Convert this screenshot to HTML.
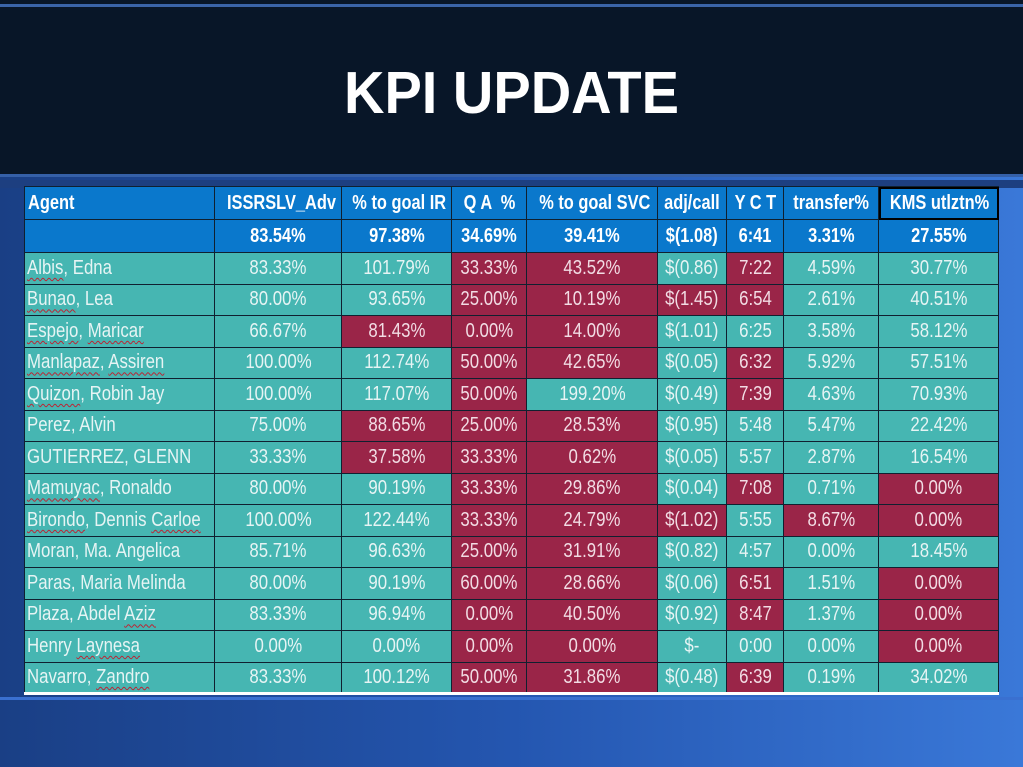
<!DOCTYPE html>
<html><head><meta charset="utf-8"><style>
*{margin:0;padding:0;box-sizing:border-box}
body{width:1023px;height:767px;overflow:hidden;position:relative;background:linear-gradient(90deg,#1a3f85 0%,#2456b0 50%,#3a78d8 100%);font-family:"Liberation Sans",sans-serif}
#top{position:absolute;left:0;top:0;width:1023px;height:174px;background:#081628}
#l1{position:absolute;left:0;top:4px;width:1023px;height:3px;background:#3a64a8}
#l2{position:absolute;left:0;top:174px;width:1023px;height:3px;background:#3560a8}
#l3{position:absolute;left:0;top:180px;width:1023px;height:8px;background:#1d3f80}
#lb{position:absolute;left:0;top:697px;width:1023px;height:3px;background:#3a70d0}
h1{position:absolute;left:0;top:60px;width:1023px;text-align:center;color:#fff;font:bold 56px "Liberation Sans",sans-serif;transform:scaleY(1.06)}
table{position:absolute;left:24px;top:186px;border-collapse:collapse;table-layout:fixed;width:974px}
td{border:1.5px solid #102030;height:31.5px;text-align:center;font-size:20px;color:#e6f4f4;background:#46b6b2;white-space:nowrap;overflow:hidden;padding:0}
td span{display:inline-block;transform:scaleX(0.84);transform-origin:center}
td:first-child span{transform-origin:left}
td.r{background:#9a2548;color:#f2dce4}
td:first-child{text-align:left;padding-left:2px}
tr.h td{background:#0a78cc;color:#fff;font-weight:bold;font-size:20px;height:33px}
tr.h td span{transform:scaleX(0.82)}
tr.h td:first-child{padding-left:3px}
.k{outline:2.5px solid #000;outline-offset:-2px}
u{text-decoration:underline wavy #c02030;text-decoration-thickness:1px;text-underline-offset:3px}
tbody{border-bottom:3px solid #fff}
</style></head><body>
<div id="top"></div><div id="l1"></div><div id="l2"></div><div id="l3"></div><div id="lb"></div>
<h1>KPI UPDATE</h1>
<table>
<colgroup><col style="width:190px"><col style="width:127px"><col style="width:110px"><col style="width:75px"><col style="width:131px"><col style="width:69px"><col style="width:57px"><col style="width:95px"><col style="width:120px"></colgroup>
<tbody>
<tr class="h"><td>Agent</td><td>ISSRSLV_Adv</td><td>% to goal IR</td><td>Q A &nbsp;%</td><td>% to goal SVC</td><td>adj/call</td><td>Y C T</td><td>transfer%</td><td class="k">KMS utlztn%</td></tr>
<tr class="h"><td></td><td>83.54%</td><td>97.38%</td><td>34.69%</td><td>39.41%</td><td>$(1.08)</td><td>6:41</td><td>3.31%</td><td>27.55%</td></tr>
<tr><td><u>Albis</u>, Edna</td><td>83.33%</td><td>101.79%</td><td class="r">33.33%</td><td class="r">43.52%</td><td>$(0.86)</td><td class="r">7:22</td><td>4.59%</td><td>30.77%</td></tr>
<tr><td><u>Bunao</u>, Lea</td><td>80.00%</td><td>93.65%</td><td class="r">25.00%</td><td class="r">10.19%</td><td class="r">$(1.45)</td><td class="r">6:54</td><td>2.61%</td><td>40.51%</td></tr>
<tr><td><u>Espejo</u>, <u>Maricar</u></td><td>66.67%</td><td class="r">81.43%</td><td class="r">0.00%</td><td class="r">14.00%</td><td>$(1.01)</td><td>6:25</td><td>3.58%</td><td>58.12%</td></tr>
<tr><td><u>Manlapaz</u>, <u>Assiren</u></td><td>100.00%</td><td>112.74%</td><td class="r">50.00%</td><td class="r">42.65%</td><td>$(0.05)</td><td class="r">6:32</td><td>5.92%</td><td>57.51%</td></tr>
<tr><td><u>Quizon</u>, Robin Jay</td><td>100.00%</td><td>117.07%</td><td class="r">50.00%</td><td>199.20%</td><td>$(0.49)</td><td class="r">7:39</td><td>4.63%</td><td>70.93%</td></tr>
<tr><td>Perez, Alvin</td><td>75.00%</td><td class="r">88.65%</td><td class="r">25.00%</td><td class="r">28.53%</td><td>$(0.95)</td><td>5:48</td><td>5.47%</td><td>22.42%</td></tr>
<tr><td>GUTIERREZ, GLENN</td><td>33.33%</td><td class="r">37.58%</td><td class="r">33.33%</td><td class="r">0.62%</td><td>$(0.05)</td><td>5:57</td><td>2.87%</td><td>16.54%</td></tr>
<tr><td><u>Mamuyac</u>, Ronaldo</td><td>80.00%</td><td>90.19%</td><td class="r">33.33%</td><td class="r">29.86%</td><td>$(0.04)</td><td class="r">7:08</td><td>0.71%</td><td class="r">0.00%</td></tr>
<tr><td><u>Birondo</u>, Dennis <u>Carloe</u></td><td>100.00%</td><td>122.44%</td><td class="r">33.33%</td><td class="r">24.79%</td><td class="r">$(1.02)</td><td>5:55</td><td class="r">8.67%</td><td class="r">0.00%</td></tr>
<tr><td>Moran, Ma. Angelica</td><td>85.71%</td><td>96.63%</td><td class="r">25.00%</td><td class="r">31.91%</td><td>$(0.82)</td><td>4:57</td><td>0.00%</td><td>18.45%</td></tr>
<tr><td>Paras, Maria Melinda</td><td>80.00%</td><td>90.19%</td><td class="r">60.00%</td><td class="r">28.66%</td><td>$(0.06)</td><td class="r">6:51</td><td>1.51%</td><td class="r">0.00%</td></tr>
<tr><td>Plaza, Abdel <u>Aziz</u></td><td>83.33%</td><td>96.94%</td><td class="r">0.00%</td><td class="r">40.50%</td><td>$(0.92)</td><td class="r">8:47</td><td>1.37%</td><td class="r">0.00%</td></tr>
<tr><td>Henry <u>Laynesa</u></td><td>0.00%</td><td>0.00%</td><td class="r">0.00%</td><td class="r">0.00%</td><td>$-</td><td>0:00</td><td>0.00%</td><td class="r">0.00%</td></tr>
<tr><td>Navarro, <u>Zandro</u></td><td>83.33%</td><td>100.12%</td><td class="r">50.00%</td><td class="r">31.86%</td><td>$(0.48)</td><td class="r">6:39</td><td>0.19%</td><td>34.02%</td></tr>
</tbody></table>
<script>
document.querySelectorAll('td').forEach(function(td){if(td.innerHTML.trim())td.innerHTML='<span>'+td.innerHTML+'</span>';});
</script>
</body></html>
